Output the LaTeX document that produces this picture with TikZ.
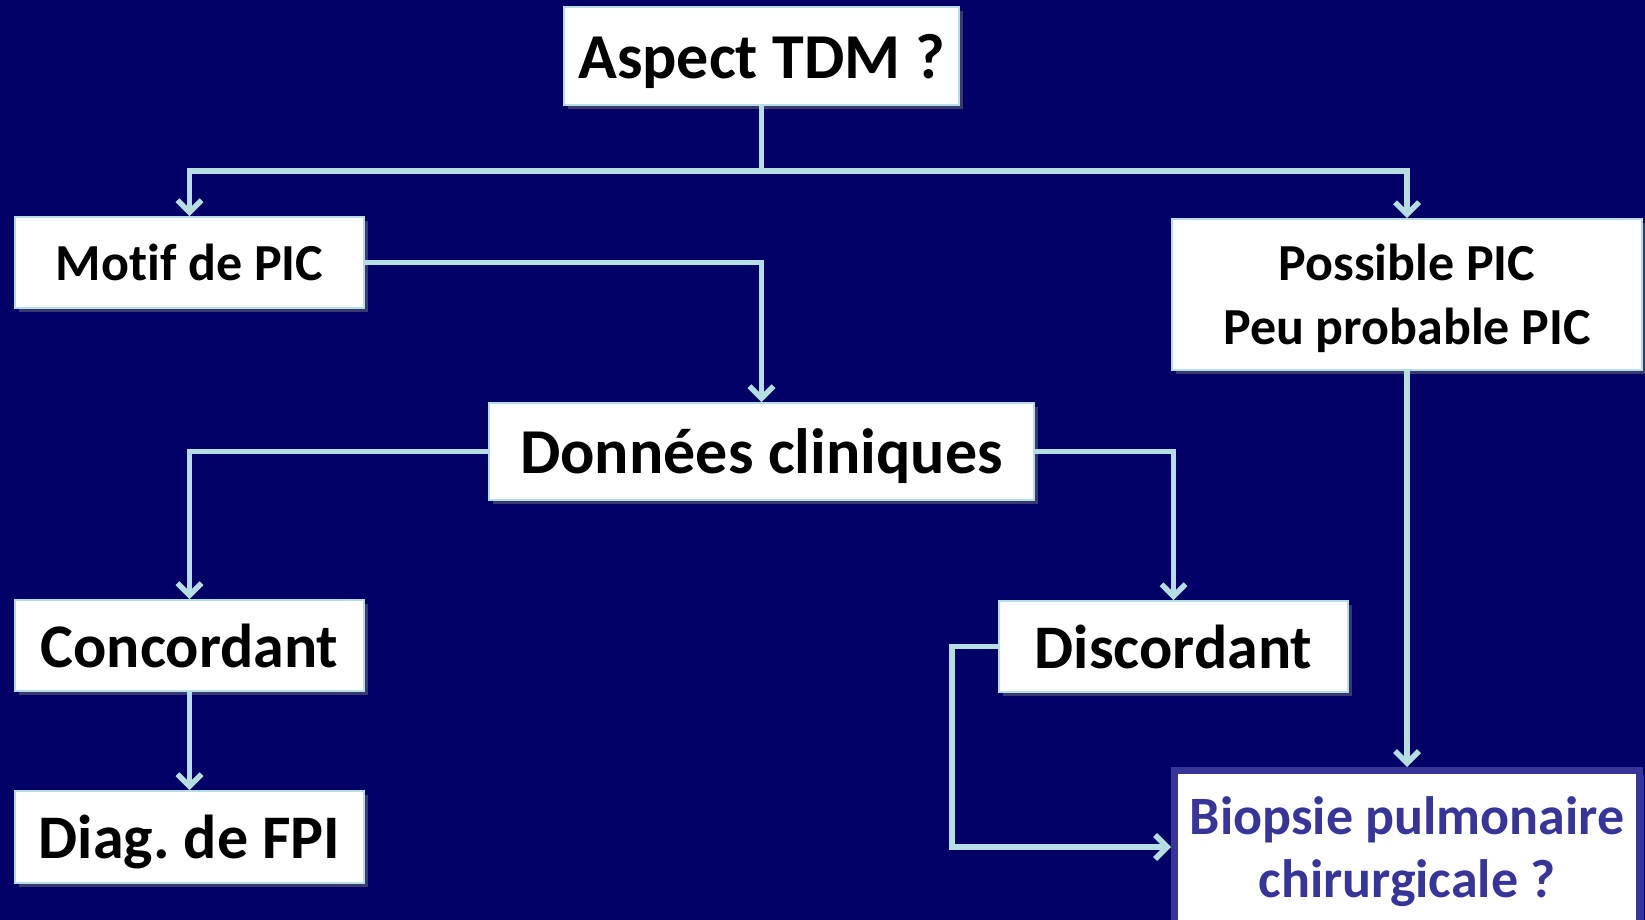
\documentclass[tikz,border=0pt]{standalone}
\usepackage{fontspec}
\setmainfont{Carlito}[Ligatures=NoCommon]
\usetikzlibrary{arrows.meta, positioning, shadows}
\definecolor{navy}{RGB}{0,0,102}
\definecolor{linecyan}{RGB}{180,222,226}
\definecolor{biopblue}{RGB}{55,54,152}

\begin{document}
\begin{tikzpicture}[x=0.5pt, y=-0.5pt, >={Straight Barb[length=6pt,width=12pt]}, line width=2pt]
	\tikzset{box/.style={draw=linecyan, line width=0.8pt, fill=white, inner sep=0pt, text depth=0pt, align=center, font=\bfseries, text=black, drop shadow={shadow xshift=2pt, shadow yshift=-2pt, opacity=.45}}}
	\tikzset{link/.style={draw=linecyan, line width=2.8pt, ->}}
	\fill[navy] (0,0) rectangle (1645,920);
	\useasboundingbox (0,0) rectangle (1645,920);
	\node[box, minimum width=197.5pt, minimum height=49pt, font=\bfseries\fontsize{32}{38}\selectfont] (aspect) at (761.5,56) {Aspect TDM ?};
	\node[box, minimum width=174.5pt, minimum height=45.5pt, font=\bfseries\fontsize{26}{32}\selectfont] (motif) at (189.5,262.5) {Motif de PIC};
	\node[box, minimum width=235pt, minimum height=75.5pt, font=\bfseries\fontsize{26}{32}\selectfont] (possible) at (1407,294.5) {Possible PIC\\Peu probable PIC};
	\node[box, minimum width=272.5pt, minimum height=48.5pt, font=\bfseries\fontsize{32}{38}\selectfont] (donnees) at (761.5,451.5) {Données cliniques};
	\node[box, minimum width=174.5pt, minimum height=45.5pt, font=\bfseries\fontsize{31}{38}\selectfont] (concordant) at (189.5,645.5) {Concordant};
	\node[box, minimum width=174.5pt, minimum height=46pt, font=\bfseries\fontsize{31}{38}\selectfont] (diag) at (189.5,837) {Diag.\ de FPI};
	\node[box, minimum width=174.5pt, minimum height=45.5pt, font=\bfseries\fontsize{31}{38}\selectfont] (discordant) at (1173.5,646.5) {Discordant};
	\node[box, draw=biopblue, line width=3.5pt, minimum width=232.5pt, minimum height=76.5pt, text=biopblue, font=\bfseries\fontsize{27}{31.5}\selectfont] (biopsie) at (1407,847) {Biopsie pulmonaire\\chirurgicale ?};
	\draw[link] (aspect.south) -- ++(0,65) -| (motif.north);
	\draw[link] (aspect.south) -- ++(0,65) -| (possible.north);
	\draw[link] (motif.east) -| (donnees.north);
	\draw[link] (donnees.west) -| (concordant.north);
	\draw[link] (donnees.east) -| (discordant.north);
	\draw[link] (concordant) -- (diag);
	\draw[link] (possible) -- (biopsie);
	\draw[link] (discordant.west) -- ++(-46,0) |- (biopsie.west);
\end{tikzpicture}
\end{document}
